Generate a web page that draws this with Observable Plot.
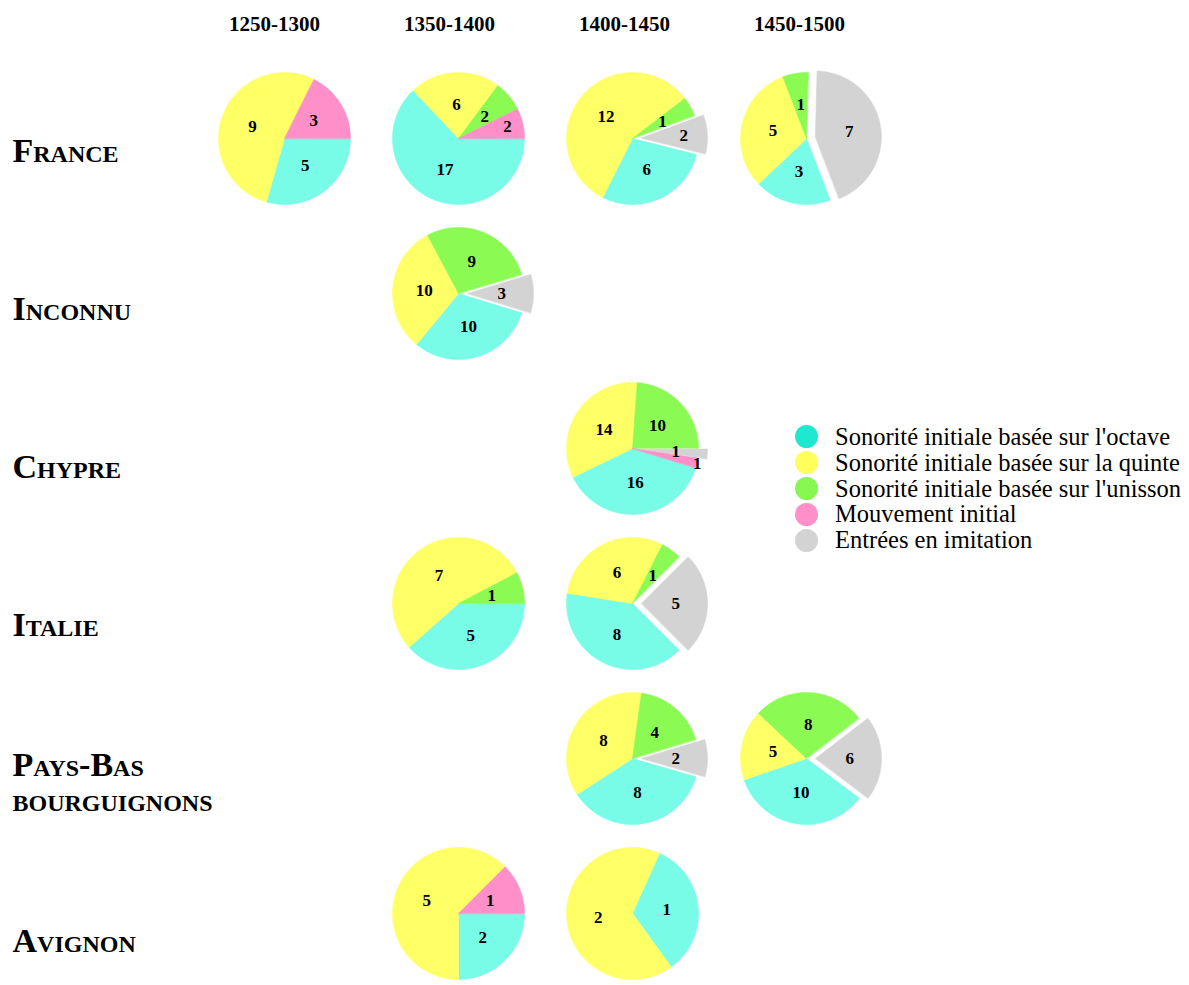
<!DOCTYPE html>
<html><head><meta charset="utf-8">
<script src="https://cdn.jsdelivr.net/npm/d3@7"></script>
<script src="https://cdn.jsdelivr.net/npm/@observablehq/plot@0.6"></script>
<style>
body{margin:0;background:#fff;}
#wrap{position:relative;width:1189px;height:985px;}
#legend{position:absolute;left:795px;top:424px;font-family:"Liberation Serif","Times New Roman",serif;font-size:24.5px;color:#000;}
.item{display:flex;align-items:center;height:25.8px;white-space:nowrap;}
.sw{width:23px;height:23px;border-radius:50%;margin-right:17px;flex:none;}
</style></head><body><div id="wrap"><div id="legend"></div></div>
<script>
// ---- data ----
const regions = ["France", "Inconnu", "Chypre", "Italie", "Pays-Bas bourguignons", "Avignon"];
const regionLabels = ["France", "Inconnu", "Chypre", "Italie", "Pays-Bas\nbourguignons", "Avignon"];
const periods = ["1250-1300", "1350-1400", "1400-1450", "1450-1500"];
const categories = [
  "Sonorité initiale basée sur l'octave",
  "Sonorité initiale basée sur la quinte",
  "Sonorité initiale basée sur l'unisson",
  "Mouvement initial",
  "Entrées en imitation"
];
const pieColors = ["#78fce8", "#ffff66", "#8bfb54", "#ff8fc8", "#d3d3d3"];
const legendColors = ["#1ee8d0", "#ffff5c", "#89f752", "#ff8fc8", "#d3d3d3"];

const pieRegion = ["France", "France", "France", "France", "Inconnu", "Chypre", "Italie", "Italie",
  "Pays-Bas bourguignons", "Pays-Bas bourguignons", "Avignon", "Avignon"];
const piePeriod = ["1250-1300", "1350-1400", "1400-1450", "1450-1500", "1350-1400", "1400-1450",
  "1350-1400", "1400-1450", "1400-1450", "1450-1500", "1350-1400", "1400-1450"];
const octave    = [5, 17, 6, 3, 10, 16, 5, 8, 8, 10, 2, 1];
const quinte    = [9, 6, 12, 5, 10, 14, 7, 6, 8, 5, 5, 2];
const unisson   = [0, 2, 1, 1, 9, 10, 1, 1, 4, 8, 0, 0];
const mouvement = [3, 2, 0, 0, 0, 1, 0, 0, 0, 0, 1, 0];
const imitation = [0, 0, 2, 7, 3, 1, 0, 5, 2, 6, 0, 0];
// rotation of each pie (degrees, clockwise from 3 o'clock) and slice order
const startAngle = [0, 0, 14, 69, 17, 17, 0, 45, 16, 37, 0, -66];
const std = [0, 1, 2, 3, 4], alt = [0, 1, 2, 4, 3];
const sliceOrder = [std, std, std, std, std, alt, std, std, std, std, std, std];

// ---- layout ----
const W = 1189, H = 985;
const COL_X0 = 284, COL_STEP = 174, ROW_Y0 = 138, ROW_STEP = 155;
const R = 66, EXPLODE = 9, LABEL_R = 0.52;
const LABEL_Y0 = 150, LABEL_STEP = 158;

const slices = [], labels = [];
pieRegion.forEach((reg, p) => {
  const cx = COL_X0 + periods.indexOf(piePeriod[p]) * COL_STEP;
  const cy = ROW_Y0 + regions.indexOf(reg) * ROW_STEP;
  const vals = [octave[p], quinte[p], unisson[p], mouvement[p], imitation[p]];
  const total = d3.sum(vals);
  let a = startAngle[p] * Math.PI / 180;
  const placed = [];
  sliceOrder[p].forEach(k => {
    const v = vals[k];
    if (!v) return;
    const span = v / total * 2 * Math.PI;
    const a0 = a, a1 = a + span; a = a1;
    const mid = (a0 + a1) / 2;
    const off = k === 4 ? EXPLODE : 0;
    const ox = cx + off * Math.cos(mid), oy = cy + off * Math.sin(mid);
    const id = p + "-" + k;
    slices.push({id, cat: categories[k], x: ox, y: oy});
    const n = Math.max(2, Math.ceil(span / (Math.PI / 360)));
    for (let i = 0; i <= n; i++) {
      const t = a0 + span * i / n;
      slices.push({id, cat: categories[k], x: ox + R * Math.cos(t), y: oy + R * Math.sin(t)});
    }
    let r = LABEL_R * R, lx, ly;
    for (;;) {
      lx = ox + r * Math.cos(mid); ly = oy + r * Math.sin(mid);
      if (placed.every(q => Math.hypot(q[0] - lx, q[1] - ly) >= 24) || r > 1.2 * R) break;
      r += 2;
    }
    placed.push([lx, ly]);
    labels.push({x: lx, y: ly, text: String(v)});
  });
});

const chart = Plot.plot({
  width: W, height: H, margin: 0,
  x: {domain: [0, W], range: [0, W], axis: null},
  y: {domain: [0, H], range: [0, H], axis: null},
  color: {domain: categories, range: pieColors},
  style: {fontFamily: '"Liberation Serif","Times New Roman",serif', background: "#fff", color: "#000"},
  marks: [
    Plot.line(slices, {x: "x", y: "y", z: "id", fill: "cat", stroke: "cat", strokeWidth: 0.6, curve: "linear-closed"}),
    Plot.text(labels, {x: "x", y: "y", text: "text", fontSize: 17, fontWeight: "bold", fill: "#000"}),
    Plot.text(periods, {x: d => COL_X0 - 10 + periods.indexOf(d) * (COL_STEP + 1), frameAnchor: "top", dy: 16,
      text: d => d, fontSize: 21, fontWeight: "bold", fill: "#000"}),
    Plot.text(regionLabels, {y: (d, i) => LABEL_Y0 + i * LABEL_STEP, frameAnchor: "left", dx: 12,
      textAnchor: "start", text: d => d, fontSize: 34, fontWeight: "bold", lineHeight: 1.02,
      fontVariant: "small-caps", fill: "#000"})
  ]
});
document.getElementById("wrap").prepend(chart);

const legend = document.getElementById("legend");
categories.forEach((c, i) => {
  const row = document.createElement("div");
  row.className = "item";
  const sw = document.createElement("span");
  sw.className = "sw";
  sw.style.background = legendColors[i];
  const tx = document.createElement("span");
  tx.textContent = c;
  row.append(sw, tx);
  legend.append(row);
});
</script>
</body></html>
